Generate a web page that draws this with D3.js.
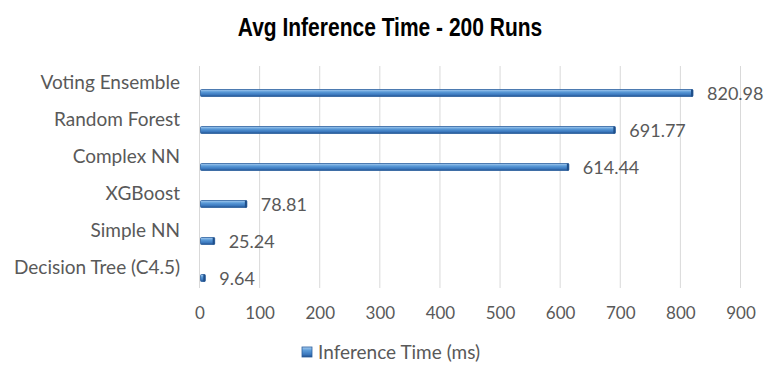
<!DOCTYPE html>
<html>
<head>
<meta charset="utf-8">
<script src="https://cdn.jsdelivr.net/npm/d3@7"></script>
<style>
  body { margin: 0; background: #fff; }
  svg { display: block; }
</style>
</head>
<body>
<svg id="chart"></svg>
<script>
// data
const models = ["Voting Ensemble", "Random Forest", "Complex NN", "XGBoost", "Simple NN", "Decision Tree (C4.5)"];
const times = [820.98, 691.77, 614.44, 78.81, 25.24, 9.64];
const xTicks = [0, 100, 200, 300, 400, 500, 600, 700, 800, 900];
const seriesName = "Inference Time (ms)";
const title = "Avg Inference Time - 200 Runs";

const width = 766, height = 371;
const margin = { top: 66, right: 25, bottom: 83, left: 199.5 };
const font = "Lato, 'Open Sans', sans-serif";

const svg = d3.select("#chart")
  .attr("width", width)
  .attr("height", height);

const defs = svg.append("defs");
const grad = defs.append("linearGradient")
  .attr("id", "barGrad")
  .attr("x1", 0).attr("y1", 0).attr("x2", 0).attr("y2", 1);
grad.append("stop").attr("offset", "0%").attr("stop-color", "#a9cdf0");
grad.append("stop").attr("offset", "35%").attr("stop-color", "#5b9bd8");
grad.append("stop").attr("offset", "75%").attr("stop-color", "#3a77bd");
grad.append("stop").attr("offset", "100%").attr("stop-color", "#22508a");

const x = d3.scaleLinear()
  .domain([0, 900])
  .range([margin.left, width - margin.right - 0.5]);

const y = d3.scaleBand()
  .domain(models)
  .range([margin.top, height - margin.bottom]);

// gridlines
svg.append("g")
  .selectAll("line")
  .data(xTicks)
  .join("line")
  .attr("x1", d => x(d)).attr("x2", d => x(d))
  .attr("y1", margin.top).attr("y2", height - margin.bottom)
  .attr("stroke", "#d9d9d9")
  .attr("stroke-width", 1);

// x axis labels
const xAxis = svg.append("g")
  .attr("transform", `translate(0,${height - margin.bottom + 25})`)
  .call(d3.axisBottom(x).tickValues(xTicks).tickSize(0).tickPadding(0));
xAxis.select(".domain").remove();
xAxis.selectAll("text")
  .attr("fill", "#595959")
  .attr("font-family", font)
  .attr("font-size", 17)
  .attr("dy", "0.35em")
  .attr("y", 0);

// category labels
svg.append("g")
  .selectAll("text")
  .data(models)
  .join("text")
  .attr("x", 180)
  .attr("y", d => y(d) + y.bandwidth() / 2 - 2)
  .attr("dy", "0.35em")
  .attr("text-anchor", "end")
  .attr("fill", "#595959")
  .attr("font-family", font)
  .attr("font-size", 19)
  .text(d => d);

const barH = 7;
const barOff = 8.5;
const rows = models.map((m, i) => ({ model: m, value: times[i] }));

// bars
const bars = svg.append("g");
bars.selectAll("rect.bar")
  .data(rows)
  .join("rect")
  .attr("class", "bar")
  .attr("x", x(0) + 1)
  .attr("y", d => y(d.model) + y.bandwidth() / 2 + barOff - barH / 2)
  .attr("width", d => Math.max(x(d.value) - x(0) - 1, 4))
  .attr("height", barH)
  .attr("rx", 1)
  .attr("fill", "url(#barGrad)")
  .attr("stroke", "#2b5f9e")
  .attr("stroke-width", 0.8);

// end caps
bars.selectAll("rect.cap")
  .data(rows)
  .join("rect")
  .attr("class", "cap")
  .attr("x", d => x(0) + 1 + Math.max(x(d.value) - x(0) - 1, 4) - 2)
  .attr("y", d => y(d.model) + y.bandwidth() / 2 + barOff - barH / 2)
  .attr("width", 2)
  .attr("height", barH)
  .attr("fill", "#1f4f8a");

// value labels
svg.append("g")
  .selectAll("text")
  .data(rows)
  .join("text")
  .attr("x", d => x(d.value) + 14)
  .attr("y", d => y(d.model) + y.bandwidth() / 2 + barOff + 1)
  .attr("dy", "0.35em")
  .attr("fill", "#595959")
  .attr("font-family", font)
  .attr("font-size", 18)
  .text(d => d3.format(".2f")(d.value));

// title (condensed look)
svg.append("text")
  .attr("transform", "translate(390,27) scale(0.84,1)")
  .attr("dy", "0.35em")
  .attr("text-anchor", "middle")
  .attr("font-family", "'Liberation Sans', Arial, sans-serif")
  .attr("font-weight", "bold")
  .attr("font-size", 25)
  .attr("fill", "#000")
  .text(title);

// legend
const legend = svg.append("g").attr("transform", "translate(302,347)");
legend.append("rect")
  .attr("width", 10).attr("height", 10)
  .attr("fill", "url(#barGrad)")
  .attr("stroke", "#2b5f9e")
  .attr("stroke-width", 0.8);
legend.append("text")
  .attr("x", 16)
  .attr("y", 5)
  .attr("dy", "0.35em")
  .attr("fill", "#595959")
  .attr("font-family", font)
  .attr("font-size", 19)
  .text(seriesName);
</script>
</body>
</html>
